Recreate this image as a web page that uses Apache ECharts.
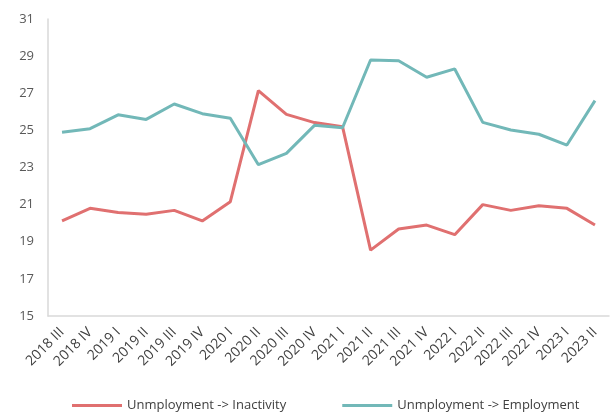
<!DOCTYPE html>
<html><head><meta charset="utf-8">
<script src="https://cdn.jsdelivr.net/npm/echarts@6/dist/echarts.min.js"></script>
<style>html,body{margin:0;padding:0;background:#fff}#c{width:616px;height:414px}</style>
</head><body><div id="c"></div>
<script>
const categories = ["2018 III","2018 IV","2019 I","2019 II","2019 III","2019 IV","2020 I","2020 II","2020 III","2020 IV","2021 I","2021 II","2021 III","2021 IV","2022 I","2022 II","2022 III","2022 IV","2023 I","2023 II"];
const inactivity = [20.13,20.8,20.58,20.48,20.69,20.12,21.16,27.14,25.86,25.42,25.2,18.55,19.69,19.9,19.38,21.0,20.69,20.94,20.8,19.9];
const employment = [24.9,25.09,25.84,25.59,26.42,25.9,25.65,23.15,23.76,25.27,25.14,28.79,28.75,27.86,28.31,25.43,25.02,24.79,24.21,26.6];
const seriesNames = ["Unmployment -> Inactivity","Unmployment -> Employment"];
const font = "Open Sans";
const chart = echarts.init(document.getElementById('c'), null, {renderer:'canvas'});
chart.setOption({
  animation:false,
  textStyle:{fontFamily:font},
  grid:{left:48,right:7,top:19,bottom:98,containLabel:false},
  legend:{
    bottom:2,left:72,padding:0,itemWidth:50,itemHeight:3,itemGap:56,icon:'rect',
    textStyle:{fontFamily:font,fontSize:13,color:'#404040'},
    data:seriesNames
  },
  xAxis:{type:'category',data:categories,boundaryGap:true,
    axisLine:{lineStyle:{color:'#d9d9d9',width:1.5}},axisTick:{show:false},
    axisLabel:{rotate:45,interval:0,fontFamily:font,fontSize:14,color:'#404040',margin:14}},
  yAxis:{type:'value',min:15,max:31,interval:2,
    axisLine:{show:true,lineStyle:{color:'#d9d9d9',width:1.5}},axisTick:{show:false},splitLine:{show:false},
    axisLabel:{fontFamily:font,fontSize:13,color:'#595959',margin:14}},
  series:[
    {name:seriesNames[0],type:'line',data:inactivity,symbol:'none',lineStyle:{color:'#E07070',width:3},itemStyle:{color:'#E07070'}},
    {name:seriesNames[1],type:'line',data:employment,symbol:'none',lineStyle:{color:'#72B8B8',width:3},itemStyle:{color:'#72B8B8'}}
  ]
});
</script></body></html>
